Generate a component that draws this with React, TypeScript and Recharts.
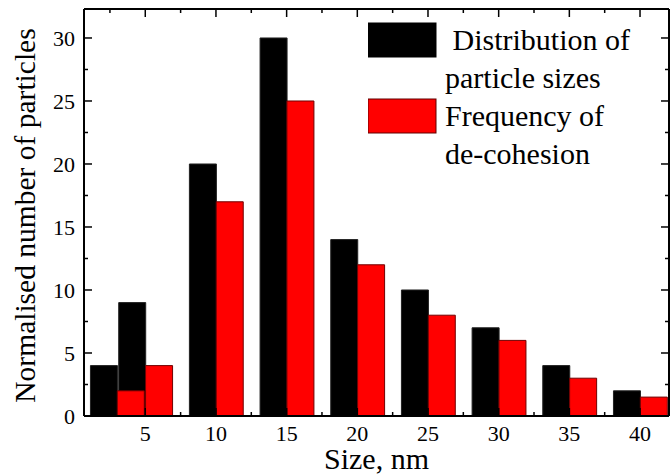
import { BarChart, Bar, XAxis, YAxis, Legend } from "recharts";

// bar centres (nm) and heights
const distCenters = [2.05, 4.05, 9.05, 14.05, 19.05, 24.05, 29.05, 34.05, 39.05];
const distValues = [4, 9, 20, 30, 14, 10, 7, 4, 2];
const freqCenters = [3.95, 5.95, 10.95, 15.95, 20.95, 25.95, 30.95, 35.95, 40.95];
const freqValues = [2, 4, 17, 25, 12, 8, 6, 3, 1.5];

const xTicks = [2.5, 5, 7.5, 10, 12.5, 15, 17.5, 20, 22.5, 25, 27.5, 30, 32.5, 35, 37.5, 40];
const yTicks = [0, 2.5, 5, 7.5, 10, 12.5, 15, 17.5, 20, 22.5, 25, 27.5, 30];

const xDomain: [number, number] = [0.665, 42.05];
const yDomain: [number, number] = [0, 32.3];

const data = distCenters.map((c, i) => ({
  dx: c,
  dist: distValues[i],
  fx: freqCenters[i],
  freq: freqValues[i],
}));

const FONT = "'Liberation Serif', 'Times New Roman', serif";
const isMajor = (v: number) => v % 5 === 0;

const BottomTick = ({ x, y, payload }: any) => {
  const major = isMajor(payload.value);
  return (
    <g>
      <line x1={x} x2={x} y1={y} y2={y - (major ? 8 : 4)} stroke="#000" strokeWidth={1.5} />
      {major && (
        <text x={x} y={y + 25} textAnchor="middle" fontSize={22} fontFamily={FONT} fill="#000">
          {payload.value}
        </text>
      )}
    </g>
  );
};

const TopTick = ({ x, y, payload }: any) => (
  <line x1={x} x2={x} y1={y} y2={y + (isMajor(payload.value) ? 8 : 4)} stroke="#000" strokeWidth={1.5} />
);

const LeftTick = ({ x, y, payload }: any) => {
  const major = isMajor(payload.value);
  return (
    <g>
      <line x1={x} x2={x + (major ? 8 : 4)} y1={y} y2={y} stroke="#000" strokeWidth={1.5} />
      {major && (
        <text x={x - 9} y={y} dy="0.35em" textAnchor="end" fontSize={22} fontFamily={FONT} fill="#000">
          {payload.value}
        </text>
      )}
    </g>
  );
};

const RightTick = ({ x, y, payload }: any) => (
  <line x1={x} x2={x - (isMajor(payload.value) ? 8 : 4)} y1={y} y2={y} stroke="#000" strokeWidth={1.5} />
);

const LegendBox = ({ payload }: any) => (
  <svg width={300} height={175}>
    {(payload || []).map((item: any, i: number) => {
      const top = i === 0 ? 23 : 99;
      const lines = String(item.value).split("\n");
      return (
        <g key={i}>
          <rect
            x={0}
            y={top}
            width={68}
            height={34}
            fill={item.color}
            stroke={i === 0 ? "#000" : "#600000"}
          />
          {lines.map((t, j) => (
            <text
              key={j}
              x={77}
              y={top + 27 + j * 37.5}
              fontSize={30}
              fontFamily={FONT}
              fill="#000"
              style={{ whiteSpace: "pre" }}
            >
              {t}
            </text>
          ))}
        </g>
      );
    })}
  </svg>
);

export default function App() {
  return (
    <div style={{ position: "absolute", left: 0, top: 0, background: "#fff" }}>
      <BarChart width={670} height={476} data={data} margin={{ top: 0, right: 0, bottom: 0, left: 0 }}>
        <XAxis
          xAxisId="dist"
          dataKey="dx"
          type="number"
          domain={xDomain}
          allowDataOverflow
          ticks={xTicks}
          interval={0}
          tickSize={0}
          tickMargin={0}
          tickLine={false}
          tick={BottomTick}
          axisLine={{ stroke: "#000", strokeWidth: 2 }}
          height={60}
          label={{
            content: ({ viewBox }: any) => (
              <text
                x={viewBox.x + viewBox.width / 2}
                y={viewBox.y + 53}
                textAnchor="middle"
                fontSize={30}
                fontFamily={FONT}
                fill="#000"
              >
                Size, nm
              </text>
            ),
          }}
        />
        <XAxis
          xAxisId="top"
          dataKey="dx"
          orientation="top"
          type="number"
          domain={xDomain}
          allowDataOverflow
          ticks={xTicks}
          interval={0}
          tickSize={0}
          tickMargin={0}
          tickLine={false}
          tick={TopTick}
          axisLine={{ stroke: "#000", strokeWidth: 2 }}
          height={9}
        />
        <XAxis xAxisId="freq" dataKey="fx" type="number" domain={xDomain} allowDataOverflow hide height={0} />
        <YAxis
          yAxisId="left"
          type="number"
          domain={yDomain}
          allowDataOverflow
          ticks={yTicks}
          interval={0}
          tickSize={0}
          tickMargin={0}
          tickLine={false}
          tick={LeftTick}
          axisLine={{ stroke: "#000", strokeWidth: 2 }}
          width={84}
          label={{
            content: ({ viewBox }: any) => (
              <text
                transform={`translate(25, ${viewBox.y + viewBox.height / 2 + 3}) rotate(-90)`}
                textAnchor="middle"
                dy="0.35em"
                fontSize={29.5}
                fontFamily={FONT}
                fill="#000"
              >
                Normalised number of particles
              </text>
            ),
          }}
        />
        <YAxis
          yAxisId="right"
          orientation="right"
          type="number"
          domain={yDomain}
          allowDataOverflow
          ticks={yTicks}
          interval={0}
          tickSize={0}
          tickMargin={0}
          tickLine={false}
          tick={RightTick}
          axisLine={{ stroke: "#000", strokeWidth: 2 }}
          width={1}
        />
        <Bar
          xAxisId="dist"
          yAxisId="left"
          dataKey="dist"
          name={" Distribution of\nparticle sizes"}
          fill="#000000"
          stroke="#222"
          barSize={27}
          isAnimationActive={false}
        />
        <Bar
          xAxisId="freq"
          yAxisId="left"
          dataKey="freq"
          name={"Frequency of\nde-cohesion"}
          fill="#ff0000"
          stroke="#700000"
          barSize={27}
          isAnimationActive={false}
        />
        <Legend
          layout="vertical"
          align="center"
          verticalAlign="middle"
          content={LegendBox}
          wrapperStyle={{ left: 368, top: 0, width: 300, height: 175 }}
        />
      </BarChart>
    </div>
  );
}
